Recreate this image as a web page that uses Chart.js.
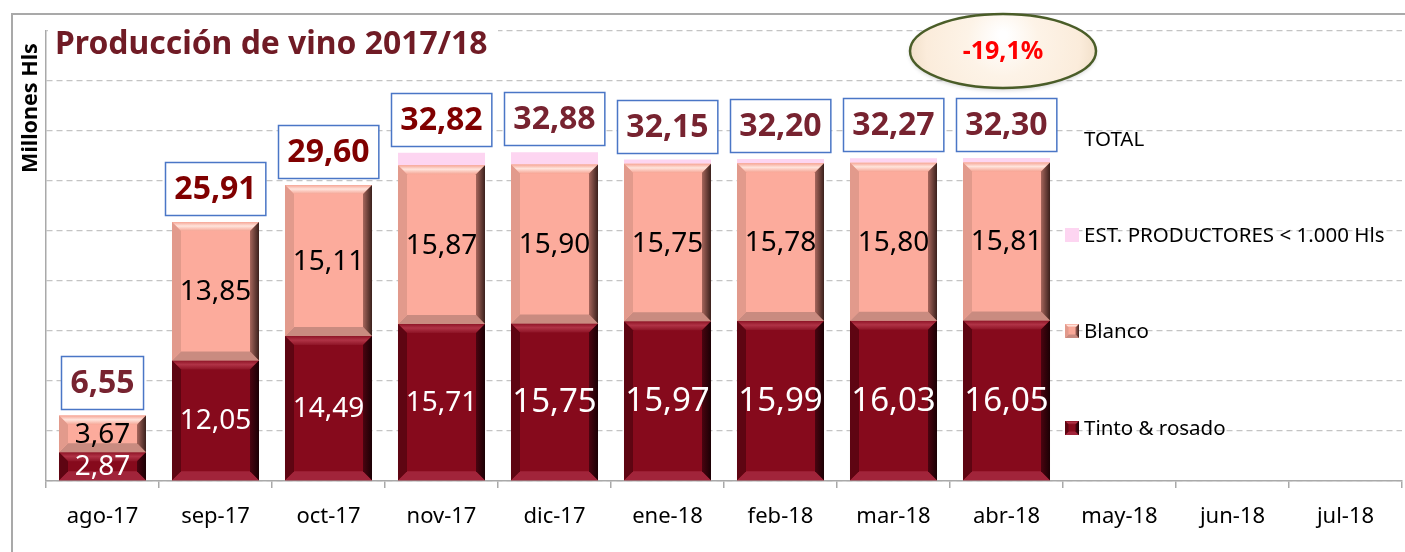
<!DOCTYPE html>
<html>
<head>
<meta charset="utf-8">
<script src="https://cdn.jsdelivr.net/npm/chart.js@4.4.0/dist/chart.umd.min.js"></script>
<style>
html, body { margin: 0; padding: 0; background: #fff; overflow: hidden; }
#wrap { position: relative; width: 1405px; height: 552px; }
#frame { position: absolute; left: 11px; top: 13px; width: 1400px; height: 545px; border-left: 2px solid #a9a9a9; border-top: 2px solid #a9a9a9; }
canvas { position: absolute; left: 0; top: 0; }
</style>
</head>
<body>
<div id="wrap">
  <div id="frame"></div>
  <canvas id="grafico" width="1405" height="552"></canvas>
</div>
<script>
// datos (millones de hl)
var meses = ['ago-17', 'sep-17', 'oct-17', 'nov-17', 'dic-17', 'ene-18', 'feb-18', 'mar-18', 'abr-18', 'may-18', 'jun-18', 'jul-18'];
var tinto = [2.87, 12.05, 14.49, 15.71, 15.75, 15.97, 15.99, 16.03, 16.05, null, null, null];
var blanco = [3.67, 13.85, 15.11, 15.87, 15.90, 15.75, 15.78, 15.80, 15.81, null, null, null];
var estProductores = [0.01, 0.01, 0, 1.24, 1.23, 0.43, 0.43, 0.44, 0.44, null, null, null];
var total = [6.55, 25.91, 29.60, 32.82, 32.88, 32.15, 32.20, 32.27, 32.30, null, null, null];
var yMax = 45, yPaso = 5;
var titulo = 'Producción de vino 2017/18';
var tituloEje = 'Millones Hls';
var variacion = '-19,1%';

var FUENTE = '"Noto Sans", "Open Sans", sans-serif';
var colTotales = ['#772330', '#800000', '#800000', '#800000', '#772330', '#772330', '#772330', '#772330', '#772330'];

function fmt(v) { return v.toFixed(2).replace('.', ','); }

function poly(ctx, pts, fill) {
    ctx.beginPath();
    ctx.moveTo(pts[0][0], pts[0][1]);
    for (var i = 1; i < pts.length; i++) ctx.lineTo(pts[i][0], pts[i][1]);
    ctx.closePath();
    ctx.fillStyle = fill;
    ctx.fill();
}

var BISEL = {
    tinto:  {top0: '#b03346', top1: '#8e1426', bottom: '#a1243a', left: '#5e0512', right0: '#4a0410', right1: '#1a0004'},
    blanco: {top0: '#ffe4dc', top1: '#f6a696', bottom: '#c98b80', left: '#e29a8c', right0: '#a6665c', right1: '#3a201c'}
};

function bisel(ctx, l, t, r, b, c, dMax) {
    var d = Math.min(dMax, (b - t) / 3, (r - l) / 4);
    if (d < 1) return;
    var g = ctx.createLinearGradient(0, t, 0, t + d);
    g.addColorStop(0, c.top1);
    g.addColorStop(0.45, c.top0);
    g.addColorStop(1, c.top1);
    poly(ctx, [[l, t], [r, t], [r - d, t + d], [l + d, t + d]], g);
    poly(ctx, [[l, b], [r, b], [r - d, b - d], [l + d, b - d]], c.bottom);
    poly(ctx, [[l, t], [l + d, t + d], [l + d, b - d], [l, b]], c.left);
    var g2 = ctx.createLinearGradient(r - d, 0, r, 0);
    g2.addColorStop(0, c.right0);
    g2.addColorStop(1, c.right1);
    poly(ctx, [[r, t], [r - d, t + d], [r - d, b - d], [r, b]], g2);
}

var pluginDecoracion = {
    id: 'decoracion',
    afterDatasetsDraw: function(chart) {
        var ctx = chart.ctx;
        ctx.save();
        // bisel de las barras
        [[0, BISEL.tinto], [1, BISEL.blanco]].forEach(function(par) {
            chart.getDatasetMeta(par[0]).data.forEach(function(el, i) {
                if (chart.data.datasets[par[0]].data[i] == null) return;
                var p = el.getProps(['x', 'y', 'base', 'width'], true);
                bisel(ctx, p.x - p.width / 2, Math.min(p.y, p.base), p.x + p.width / 2, Math.max(p.y, p.base), par[1], 9);
            });
        });

        // etiquetas dentro de los segmentos
        ctx.textAlign = 'center';
        ctx.textBaseline = 'middle';
        chart.getDatasetMeta(0).data.forEach(function(el, i) {
            if (tinto[i] == null) return;
            var p = el.getProps(['x', 'y', 'base'], true);
            ctx.font = (i >= 4 ? 33 : 28) + 'px ' + FUENTE;
            ctx.fillStyle = '#ffffff';
            ctx.fillText(fmt(tinto[i]), p.x, (p.y + p.base) / 2 + 1);
        });
        chart.getDatasetMeta(1).data.forEach(function(el, i) {
            if (blanco[i] == null) return;
            var p = el.getProps(['x', 'y', 'base'], true);
            ctx.font = '28px ' + FUENTE;
            ctx.fillStyle = '#000000';
            ctx.fillText(fmt(blanco[i]), p.x, (p.y + p.base) / 2 + 1);
        });

        // totales en recuadro
        chart.getDatasetMeta(3).data.forEach(function(el, i) {
            if (total[i] == null) return;
            var p = el.getProps(['x', 'y'], true);
            ctx.font = 'bold 32px ' + FUENTE;
            var txt = fmt(total[i]);
            var w = ctx.measureText(txt).width + 18;
            var h = 53;
            var bx = Math.round(p.x - w / 2) + 0.5, by = Math.round(p.y - 7 - h) + 0.5;
            ctx.fillStyle = '#ffffff';
            ctx.fillRect(bx, by, w, h);
            ctx.strokeStyle = '#4a76c6';
            ctx.lineWidth = 1.5;
            ctx.strokeRect(bx, by, w, h);
            ctx.fillStyle = colTotales[i];
            ctx.fillText(txt, p.x, by + h / 2 + 1);
        });
        ctx.restore();
    },
    afterDraw: function(chart) {
        var ctx = chart.ctx;
        var area = chart.chartArea;
        ctx.save();

        // titulo
        ctx.fillStyle = '#ffffff';
        ctx.fillRect(area.left + 2, 20, 450, 44);
        ctx.font = 'bold 32px ' + FUENTE;
        var tw = ctx.measureText(titulo).width;
        var fs = 32 * 432 / tw;
        ctx.font = 'bold ' + fs.toFixed(1) + 'px ' + FUENTE;
        ctx.fillStyle = '#701b25';
        ctx.textAlign = 'left';
        ctx.textBaseline = 'alphabetic';
        ctx.fillText(titulo, 55, 54);

        // titulo del eje
        ctx.save();
        ctx.translate(37, 108);
        ctx.rotate(-Math.PI / 2);
        ctx.font = 'bold 21.5px ' + FUENTE;
        ctx.fillStyle = '#000000';
        ctx.textAlign = 'center';
        ctx.textBaseline = 'alphabetic';
        ctx.fillText(tituloEje, 0, 0);
        ctx.restore();

        // ovalo con la variacion
        var cx = 1003, cy = 51;
        ctx.save();
        ctx.shadowColor = 'rgba(0,0,0,0.2)';
        ctx.shadowBlur = 4;
        ctx.shadowOffsetY = 2;
        ctx.beginPath();
        ctx.ellipse(cx, cy, 93, 37, 0, 0, Math.PI * 2);
        var gr = ctx.createRadialGradient(cx, cy - 16, 4, cx, cy, 95);
        gr.addColorStop(0, '#ffffff');
        gr.addColorStop(0.35, '#fdf3e7');
        gr.addColorStop(0.8, '#fbecdb');
        gr.addColorStop(1, '#f1dfc8');
        ctx.fillStyle = gr;
        ctx.fill();
        ctx.restore();
        ctx.beginPath();
        ctx.ellipse(cx, cy, 93, 37, 0, 0, Math.PI * 2);
        ctx.strokeStyle = '#4a5d28';
        ctx.lineWidth = 2.5;
        ctx.stroke();
        ctx.font = 'bold 25px ' + FUENTE;
        ctx.fillStyle = '#ff0000';
        ctx.textAlign = 'center';
        ctx.textBaseline = 'middle';
        ctx.fillText(variacion, cx, cy + 1);

        // leyenda
        var items = [
            {txt: 'TOTAL', y: 139},
            {txt: chart.data.datasets[2].label, y: 235, col: '#fdd5f1'},
            {txt: chart.data.datasets[1].label, y: 331, col: '#f9a898', bisel: BISEL.blanco},
            {txt: chart.data.datasets[0].label, y: 428, col: '#860a1c', bisel: BISEL.tinto}
        ];
        ctx.font = '20.5px ' + FUENTE;
        ctx.textAlign = 'left';
        items.forEach(function(it) {
            if (it.col) {
                ctx.fillStyle = it.col;
                ctx.fillRect(1065, it.y - 7, 14, 14);
                if (it.bisel) bisel(ctx, 1065, it.y - 7, 1079, it.y + 7, it.bisel, 5);
            }
            ctx.fillStyle = '#000000';
            ctx.fillText(it.txt, 1084, it.y + 1);
        });
        ctx.restore();
    }
};

var barOpts = {barPercentage: 0.77, categoryPercentage: 1.0, borderWidth: 0, stack: 'vino'};

new Chart(document.getElementById('grafico'), {
    type: 'bar',
    data: {
        labels: meses,
        datasets: [
            Object.assign({label: 'Tinto & rosado', data: tinto, backgroundColor: '#860a1c'}, barOpts),
            Object.assign({label: 'Blanco', data: blanco, backgroundColor: '#fcab9c'}, barOpts),
            Object.assign({label: 'EST. PRODUCTORES < 1.000 Hls', data: estProductores, backgroundColor: '#fdd5f1'}, barOpts),
            {type: 'line', label: 'TOTAL', data: total, showLine: false, pointRadius: 0, stack: 'total', borderColor: 'rgba(0,0,0,0)'}
        ]
    },
    options: {
        responsive: false,
        animation: false,
        layout: {padding: {top: 31, right: 3, left: 0, bottom: 0}},
        plugins: {
            legend: {display: false},
            tooltip: {enabled: false},
            title: {display: false}
        },
        scales: {
            x: {
                stacked: true,
                grid: {display: true, drawOnChartArea: false, drawTicks: true, tickLength: 7, color: '#a9a9a9', lineWidth: 1.5, offset: true},
                border: {color: '#a9a9a9', width: 1.5},
                ticks: {font: {family: FUENTE, size: 22}, color: '#000000', padding: 16, maxRotation: 0, autoSkip: false},
                afterFit: function(s) { s.height = 71; }
            },
            y: {
                stacked: true,
                min: 0,
                max: yMax,
                ticks: {display: false, stepSize: yPaso},
                grid: {color: '#c4c4c4', lineWidth: 1.3, drawTicks: false},
                border: {color: '#a9a9a9', width: 1.5, dash: [6, 4]},
                afterFit: function(s) { s.width = 46; }
            }
        }
    },
    plugins: [pluginDecoracion]
});
</script>
</body>
</html>
